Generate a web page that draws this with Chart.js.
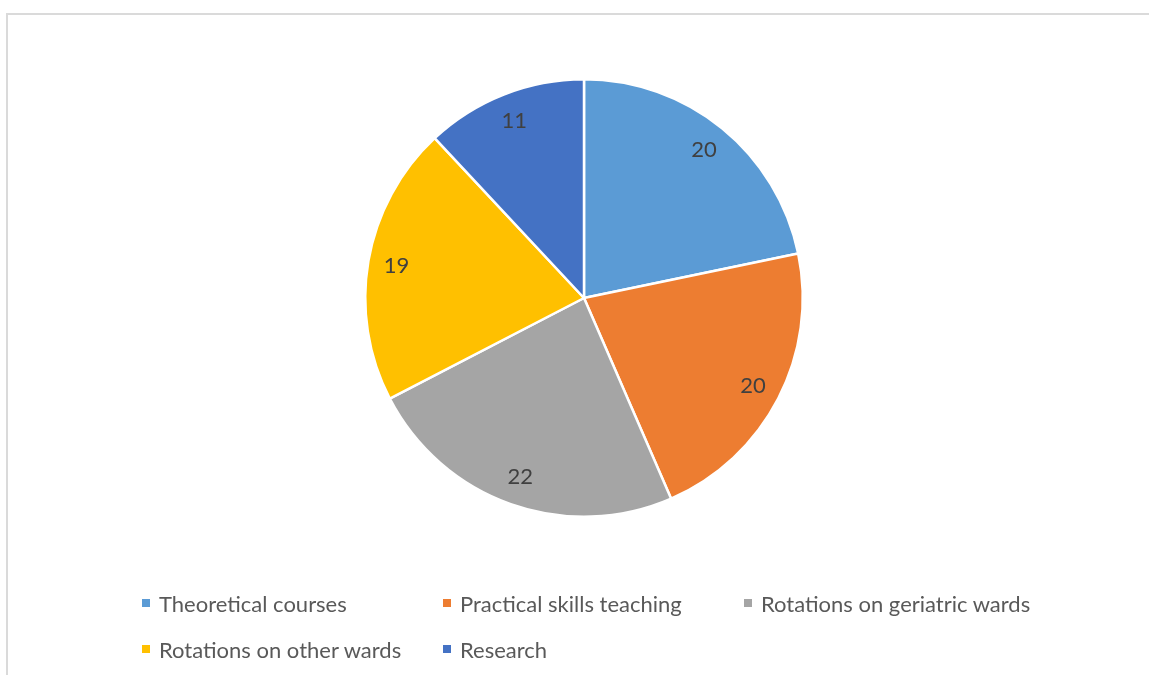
<!DOCTYPE html>
<html>
<head>
<meta charset="utf-8">
<script src="https://cdn.jsdelivr.net/npm/chart.js@4"></script>
<style>
  html, body { margin: 0; padding: 0; background: #fff; }
  #wrap { position: relative; width: 1149px; height: 675px; overflow: hidden; }
  #frame {
    position: absolute; left: 6px; top: 13px; width: 1200px; height: 700px;
    border-top: 2px solid #dadada; border-left: 2px solid #dadada;
  }
  #pie { position: absolute; left: 0; top: 0; }
  #legend {
    position: absolute; left: 142px; top: 591px;
    display: grid; grid-template-columns: 301px 301px 301px; row-gap: 22px;
    font-family: Lato, sans-serif; font-size: 22px; color: #595959;
  }
  .item { display: flex; align-items: center; height: 24px; white-space: nowrap; }
  .box { width: 8px; height: 8px; margin-right: 9px; flex: none; }
</style>
</head>
<body>
<div id="wrap">
  <div id="frame"></div>
  <canvas id="pie" width="1149" height="675"></canvas>
  <div id="legend"></div>
</div>
<script>
const categories = ['Theoretical courses', 'Practical skills teaching', 'Rotations on geriatric wards', 'Rotations on other wards', 'Research']
const values = [20, 20, 22, 19, 11]
const colors = ['#5B9BD5', '#ED7D31', '#A5A5A5', '#FFC000', '#4472C4']

// value labels inside each slice, a bit in from the rim
const sliceLabels = {
  id: 'sliceLabels',
  afterDatasetsDraw(chart) {
    const ctx = chart.ctx
    const meta = chart.getDatasetMeta(0)
    ctx.save()
    ctx.font = '22px Lato, sans-serif'
    ctx.fillStyle = '#404040'
    ctx.textAlign = 'center'
    ctx.textBaseline = 'middle'
    meta.data.forEach((arc, i) => {
      const p = arc.getProps(['x', 'y', 'startAngle', 'endAngle', 'outerRadius'])
      const mid = (p.startAngle + p.endAngle) / 2
      const r = p.outerRadius * 0.87
      ctx.fillText(String(values[i]), p.x + Math.cos(mid) * r, p.y + Math.sin(mid) * r)
    })
    ctx.restore()
  }
}

new Chart(document.getElementById('pie').getContext('2d'), {
  type: 'pie',
  data: {
    labels: categories,
    datasets: [{
      data: values,
      backgroundColor: colors,
      borderColor: '#ffffff',
      borderWidth: 2.5
    }]
  },
  options: {
    responsive: false,
    animation: false,
    layout: { padding: { top: 78, bottom: 157, left: 364, right: 345 } },
    plugins: { legend: { display: false }, tooltip: { enabled: false } }
  },
  plugins: [sliceLabels]
})

const legend = document.getElementById('legend')
categories.forEach((name, i) => {
  const item = document.createElement('div')
  item.className = 'item'
  item.innerHTML = '<span class="box" style="background:' + colors[i] + '"></span><span>' + name + '</span>'
  legend.appendChild(item)
})
</script>
</body>
</html>
